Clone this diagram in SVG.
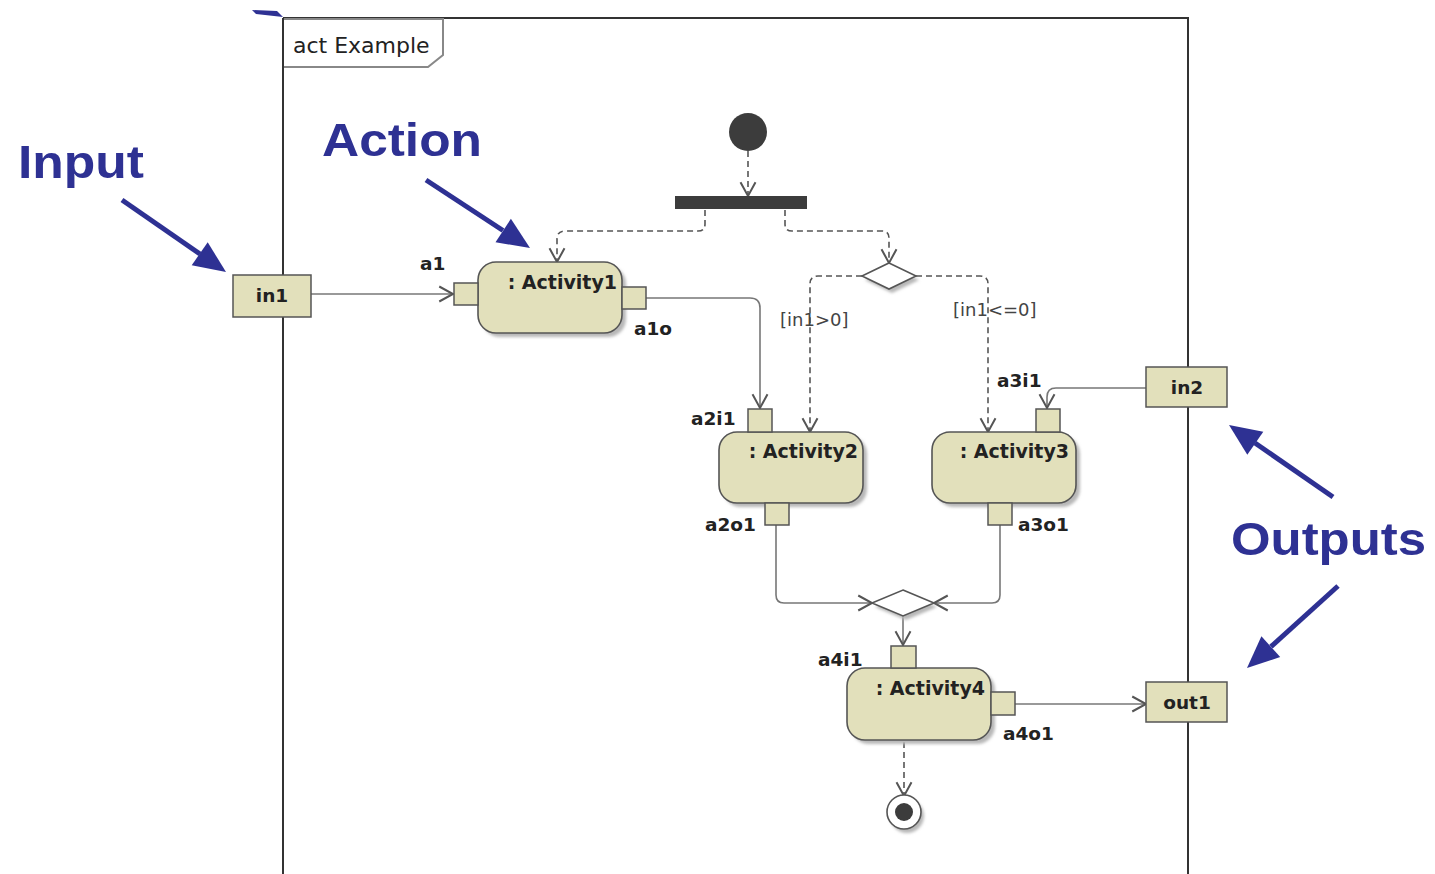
<svg xmlns="http://www.w3.org/2000/svg" width="1435" height="874" viewBox="0 0 1435 874">
  <style>
    .frame { fill: none; stroke: #333; stroke-width: 2; }
    .tag { fill: #fff; stroke: #888; stroke-width: 2; }
    .act { fill: #e2e0bb; stroke: #555; stroke-width: 1.6; }
    .pin { fill: #e2e0bb; stroke: #555; stroke-width: 1.5; }
    .shadow { fill: #b8b8b8; filter: url(#soft); }
    .flow { fill: none; stroke: #777; stroke-width: 1.6; marker-end: url(#open); }
    .ctrl { fill: none; stroke: #555; stroke-width: 1.6; stroke-dasharray: 6 4; marker-end: url(#open); }
    .lbl { font-family: "DejaVu Sans", Verdana, sans-serif; font-weight: bold; font-size: 18.5px; fill: #222; }
    .name { font-family: "DejaVu Sans", Verdana, sans-serif; font-weight: bold; font-size: 19px; fill: #222; text-anchor: end; }
    .guard { font-family: "DejaVu Sans", Verdana, sans-serif; font-size: 18px; fill: #444; }
    .note { font-family: "Liberation Sans", Arial, sans-serif; font-weight: bold; font-size: 46px; fill: #2e3193; }
    .blue { fill: #2e3193; }
    .blueline { stroke: #2e3193; stroke-width: 5; fill: none; }
  </style>
  <defs>
    <filter id="soft" x="-20%" y="-20%" width="140%" height="140%">
      <feGaussianBlur stdDeviation="1.5"/>
    </filter>
    <marker id="open" markerUnits="userSpaceOnUse" markerWidth="20" markerHeight="20" refX="0" refY="0" orient="auto" viewBox="-12 -8 14 16" overflow="visible">
      <path d="M-11,-6 L0,0 L-11,6" fill="none" stroke="#555" stroke-width="1.6"/>
    </marker>
  </defs>

  <!-- activity frame -->
  <g id="frame">
    <line class="frame" x1="283" y1="18" x2="1189" y2="18"/>
    <line class="frame" x1="283" y1="18" x2="283" y2="874"/>
    <line class="frame" x1="1188" y1="18" x2="1188" y2="874"/>
    <path class="tag" d="M284,19 L443,19 L443,55 L428,67 L284,67"/>
    <text x="293" y="53" font-family="'DejaVu Sans', Verdana, sans-serif" font-size="22" fill="#222">act Example</text>
  </g>

  <!-- connectors -->
  <g id="connectors">
    <path class="flow" d="M311,294 L453,294"/>
    <path class="flow" d="M646,298 L750,298 Q760,298 760,308 L760,408"/>
    <path class="ctrl" d="M748,151 L748,196"/>
    <path class="ctrl" d="M705,210 L705,224 Q705,231 698,231 L565,231 Q557,231 557,239 L557,262"/>
    <path class="ctrl" d="M785,210 L785,224 Q785,231 792,231 L882,231 Q889,231 889,238 L889,263"/>
    <path class="ctrl" d="M862,276 L818,276 Q810,276 810,284 L810,432"/>
    <path class="ctrl" d="M916,276 L980,276 Q988,276 988,284 L988,432"/>
    <path class="flow" d="M1146,388 L1056,388 Q1047,388 1047,397 L1047,408"/>
    <path class="flow" d="M776,525 L776,595 Q776,603 784,603 L872,603"/>
    <path class="flow" d="M1000,525 L1000,595 Q1000,603 992,603 L934,603"/>
    <path class="flow" d="M903,616 L903,645"/>
    <path class="flow" d="M1015,704 L1146,704"/>
    <path class="ctrl" d="M904,742 L904,796"/>
  </g>

  <!-- control nodes -->
  <g id="initial">
    <circle cx="748" cy="132" r="19" fill="#3c3c3c"/>
  </g>
  <g id="fork">
    <rect x="675" y="196" width="132" height="13" fill="#3c3c3c"/>
  </g>
  <g id="decision">
    <polygon class="shadow" points="892,267 919,280 892,293 865,280"/>
    <polygon points="889,263 916,276 889,289 862,276" fill="#fff" stroke="#555" stroke-width="1.6"/>
  </g>
  <g id="merge">
    <polygon class="shadow" points="906,594 937,607 906,620 875,607"/>
    <polygon points="903,590 934,603 903,616 872,603" fill="#fff" stroke="#555" stroke-width="1.6"/>
  </g>
  <g id="final">
    <circle class="shadow" cx="907" cy="816" r="17"/>
    <circle cx="904" cy="812" r="17" fill="#fff" stroke="#555" stroke-width="1.6"/>
    <circle cx="904" cy="812" r="9" fill="#3c3c3c"/>
  </g>

  <!-- activity parameter nodes -->
  <g id="in1">
    <rect class="pin" x="233" y="275" width="78" height="42"/>
    <text class="lbl" x="272" y="302" text-anchor="middle">in1</text>
  </g>
  <g id="in2">
    <rect class="pin" x="1146" y="367" width="81" height="40"/>
    <text class="lbl" x="1187" y="394" text-anchor="middle">in2</text>
  </g>
  <g id="out1">
    <rect class="pin" x="1146" y="682" width="81" height="40"/>
    <text class="lbl" x="1187" y="709" text-anchor="middle">out1</text>
  </g>

  <!-- actions with their pins -->
  <g id="activity1">
    <rect class="shadow" x="482" y="266" width="144" height="71" rx="18"/>
    <rect class="act" x="478" y="262" width="144" height="71" rx="18"/>
    <text class="name" x="617" y="289">: Activity1</text>
    <rect class="pin" x="454" y="283" width="24" height="22"/>
    <text class="lbl" x="420" y="270">a1</text>
    <rect class="pin" x="622" y="287" width="24" height="22"/>
    <text class="lbl" x="634" y="335">a1o</text>
  </g>
  <g id="activity2">
    <rect class="shadow" x="723" y="436" width="144" height="71" rx="18"/>
    <rect class="act" x="719" y="432" width="144" height="71" rx="18"/>
    <text class="name" x="858" y="458">: Activity2</text>
    <rect class="pin" x="748" y="409" width="24" height="23"/>
    <text class="lbl" x="691" y="425">a2i1</text>
    <rect class="pin" x="765" y="503" width="24" height="22"/>
    <text class="lbl" x="705" y="531">a2o1</text>
  </g>
  <g id="activity3">
    <rect class="shadow" x="936" y="436" width="144" height="71" rx="18"/>
    <rect class="act" x="932" y="432" width="144" height="71" rx="18"/>
    <text class="name" x="1069" y="458">: Activity3</text>
    <rect class="pin" x="1036" y="409" width="24" height="23"/>
    <text class="lbl" x="997" y="387">a3i1</text>
    <rect class="pin" x="988" y="503" width="24" height="22"/>
    <text class="lbl" x="1018" y="531">a3o1</text>
  </g>
  <g id="activity4">
    <rect class="shadow" x="851" y="672" width="144" height="72" rx="18"/>
    <rect class="act" x="847" y="668" width="144" height="72" rx="18"/>
    <text class="name" x="985" y="695">: Activity4</text>
    <rect class="pin" x="891" y="646" width="25" height="22"/>
    <text class="lbl" x="818" y="666">a4i1</text>
    <rect class="pin" x="991" y="692" width="24" height="23"/>
    <text class="lbl" x="1003" y="740">a4o1</text>
  </g>

  <!-- guards -->
  <g id="guards">
    <text class="guard" x="780" y="326">[in1&gt;0]</text>
    <text class="guard" x="953" y="316">[in1&lt;=0]</text>
  </g>

  <!-- callouts -->
  <g id="callout-input">
    <text class="note" x="18" y="178" textLength="126" lengthAdjust="spacingAndGlyphs">Input</text>
    <line class="blueline" x1="122" y1="200" x2="200" y2="254"/>
    <polygon class="blue" points="226,272 191.7,265.3 207.7,242.3"/>
  </g>
  <g id="callout-action">
    <text class="note" x="322" y="156" textLength="160" lengthAdjust="spacingAndGlyphs">Action</text>
    <line class="blueline" x1="426" y1="180" x2="503" y2="230.5"/>
    <polygon class="blue" points="530,248 495.5,242.2 510.9,218.8"/>
  </g>
  <g id="callout-outputs">
    <text class="note" x="1231" y="555" textLength="195" lengthAdjust="spacingAndGlyphs">Outputs</text>
    <line class="blueline" x1="1333" y1="497" x2="1255" y2="443"/>
    <polygon class="blue" points="1229,425 1263.3,431.7 1247.3,454.7"/>
    <line class="blueline" x1="1338" y1="586" x2="1271" y2="646.6"/>
    <polygon class="blue" points="1247,668 1261.4,636.2 1280.2,657.0"/>
  </g>
  <g id="callout-edge">
    <polygon class="blue" points="252,10 277,11 283,17 256,14"/>
  </g>
</svg>
